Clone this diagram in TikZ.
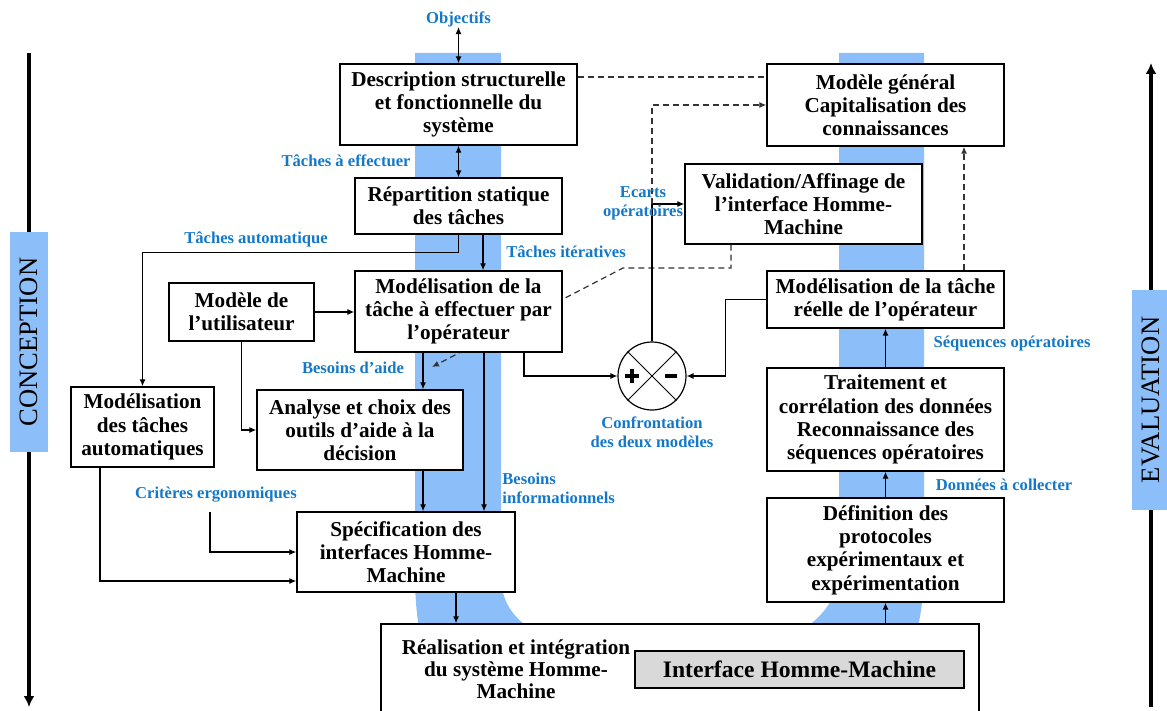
\documentclass[tikz,border=0pt]{standalone}
\usepackage{fontspec}
\setmainfont{Liberation Serif}
\usetikzlibrary{arrows.meta,calc}
\definecolor{lblue}{RGB}{20,120,200}
\definecolor{band}{RGB}{140,190,250}
\definecolor{ihmgray}{RGB}{217,217,217}
\pgfdeclarelayer{bg}\pgfdeclarelayer{mid}\pgfsetlayers{bg,mid,main}
\begin{document}
\begin{tikzpicture}[x=0.5pt,y=-0.5pt,
  box/.style={draw=black,line width=0.7pt,fill=white,align=center,inner sep=1pt,font=\fontsize{10.6}{11.6}\selectfont\bfseries},
  lbl/.style={text=lblue,font=\fontsize{8.3}{9.5}\selectfont\bfseries,inner sep=0pt,align=center},
  arr/.style={-{Latex[length=3.5pt,width=3pt]},line width=0.6pt},
  darr/.style={{Latex[length=3.5pt,width=3pt]}-{Latex[length=3.5pt,width=3pt]},line width=0.6pt},
  dsh/.style={dash pattern=on 3pt off 2pt,line width=0.6pt,draw=black!80},
  side/.style={line width=1.8pt},
  sidelbl/.style={fill=band,minimum width=110pt,minimum height=19pt,inner sep=0pt,font=\fontsize{13.3}{15}\selectfont,rotate=90}
]
\useasboundingbox (0,0) rectangle (1167,711);

\begin{pgfonlayer}{bg}
\fill[band] (415,53) -- (501,53) -- (501,575) .. controls (501,605) and (515,625) .. (560,645) -- (775,645) .. controls (820,625) and (839,600) .. (839,568) -- (839,53) -- (924,53) -- (924,568) .. controls (924,630) and (905,700) .. (850,740) -- (480,740) .. controls (430,700) and (415,640) .. (415,575) -- cycle;
\end{pgfonlayer}

% boxes
\node[lbl] (obj) at (458.5,19) {Objectifs};
\node[box,minimum width=118.5pt,minimum height=40.5pt] (desc) at (458.5,104.5) {Description structurelle\\et fonctionnelle du\\système};
\node[box,minimum width=103.5pt,minimum height=28pt] (rep) at (458.5,206) {Répartition statique\\des tâches};
\node[box,minimum width=103.5pt,minimum height=40.5pt] (modt) at (458.5,311.5) {Modélisation de la\\tâche à effectuer par\\l’opérateur};
\node[box,minimum width=72.5pt,minimum height=29pt] (user) at (241.5,312) {Modèle de\\l’utilisateur};
\node[box,minimum width=71.5pt,minimum height=40pt] (auto) at (142.5,427) {Modélisation\\des tâches\\automatiques};
\node[box,minimum width=103pt,minimum height=40pt] (anal) at (360,430) {Analyse et choix des\\outils d’aide à la\\décision};
\node[box,minimum width=109pt,minimum height=40pt] (spec) at (406,552) {Spécification des\\interfaces Homme-\\Machine};
\node[box,minimum width=299pt,minimum height=58pt] (real) at (680,682) {};
\node[align=center,inner sep=0pt,font=\fontsize{10.6}{11}\selectfont\bfseries] (realtxt) at (516,669) {Réalisation et intégration\\du système Homme-\\Machine};
\node[box,fill=ihmgray,minimum width=164.5pt,minimum height=18.5pt,font=\fontsize{11.8}{14}\selectfont\bfseries] (ihm) at (799.5,669.5) {Interface Homme-Machine};
\node[box,minimum width=118.5pt,minimum height=41pt] (gen) at (885.5,105) {Modèle général\\Capitalisation des\\connaissances};
\node[box,minimum width=118.5pt,minimum height=40pt] (valid) at (803.5,204) {Validation/Affinage de\\l’interface Homme-\\Machine};
\node[box,minimum width=118.5pt,minimum height=28.5pt] (reel) at (885.5,299.5) {Modélisation de la tâche\\réelle de l’opérateur};
\node[box,minimum width=118.5pt,minimum height=51.5pt] (trait) at (885.5,419.5) {Traitement et\\corrélation des données\\Reconnaissance des\\séquences opératoires};
\node[box,minimum width=118.5pt,minimum height=52pt] (defin) at (885.5,550) {Définition des\\protocoles\\expérimentaux et\\expérimentation};
\node[circle,draw,line width=0.6pt,fill=white,minimum size=34pt,inner sep=0pt] (cmp) at (652,376) {};

% blue labels
\node[lbl,anchor=east] (tae) at (411,161) {Tâches à effectuer};
\node[lbl] (tauto) at (256,239) {Tâches automatique};
\node[lbl] (titer) at (566,252) {Tâches itératives};
\node[lbl] (baide) at (353,368) {Besoins d’aide};
\node[lbl,anchor=west,align=left] (binfo) at (502,488) {Besoins\\informationnels};
\node[lbl] (crit) at (216,495) {Critères ergonomiques};
\node[lbl] (conf) at (652,432) {Confrontation\\des deux modèles};
\node[lbl] (seq) at (1012,343) {Séquences opératoires};
\node[lbl] (donn) at (1004,485) {Données à collecter};

% side labels
\node[sidelbl] (concept) at (29,342) {CONCEPTION};
\node[sidelbl] (eval) at (1151,400) {EVALUATION};
\coordinate (ctop) at (29,53);
\coordinate (cbot) at (29,707);
\coordinate (etop) at (1151,63);
\coordinate (ebot) at (1151,707);
\draw[side] (ctop) -- (concept.east);
\draw[side,-{Latex[length=5.5pt,width=5.5pt]}] (concept.west) -- (cbot);
\draw[side,-{Latex[length=5.5pt,width=5.5pt]}] (eval.east) -- (etop);
\draw[side] (eval.west) -- (ebot);

% connectors
\draw[darr] (obj) -- (desc);
\draw[darr] (desc) -- (rep);
\draw[arr] (rep.south) -- ++(0,18) -| (auto.north);
\draw[arr] ([xshift=12.25pt]rep.south) -- ([xshift=12.25pt]rep.south |- modt.north);
\draw[arr] (user.east) -- (user.east -| modt.west);
\draw[arr] (user.south) |- (anal.west);
\draw[arr] ([xshift=-17.75pt]modt.south) -- ([xshift=-17.75pt]modt.south |- anal.north);
\draw[arr] ([xshift=12.75pt]modt.south) -- ([xshift=12.75pt]modt.south |- spec.north);
\draw[arr] ([xshift=31.5pt]anal.south) -- ([xshift=31.5pt]anal.south |- spec.north);
\draw[arr] ([xshift=32.75pt]modt.south) |- (cmp.west);
\draw[arr] ([xshift=-21.25pt]auto.south) |- ([yshift=-14.5pt]spec.west);
\coordinate (critstart) at (210,512);
\draw[arr] (critstart) |- (spec.west);
\draw[arr] ([xshift=25pt]spec.south) -- ([xshift=25pt]spec.south |- real.north);
\draw[arr] (defin.south |- real.north) -- (defin.south);
\draw[arr] (defin) -- (trait);
\draw[arr] (trait) -- (reel);
\draw[arr] (reel.west) -- ++(-41,0) |- (cmp.east);
\draw[arr] (cmp.north) |- (valid.west);
\draw[dsh,arr] (cmp.north |- valid.west) |- (gen.west);
\draw[dsh] ([yshift=13.75pt]desc.east) -- ([yshift=13.75pt]desc.east -| gen.west);
\draw[dsh,arr] ([xshift=39.25pt]reel.north) -- ([xshift=39.25pt]reel.north |- gen.south);
\coordinate (dA) at (623,268);
\coordinate (dB) at (432,367);
\begin{pgfonlayer}{mid}
\draw[dsh,arr] ([xshift=-36.25pt]valid.south) |- (dA) -- (dB);
\end{pgfonlayer}

\node[lbl] (ecarts) at (643,203) {Ecarts\\opératoires};

% comparator symbols
\draw[line width=0.5pt] (cmp.north east) -- (cmp.south west) (cmp.north west) -- (cmp.south east);
\draw[line width=2.4pt] ($(cmp)+(-27,0)$) -- ($(cmp)+(-13,0)$) ($(cmp)+(-20,-7)$) -- ($(cmp)+(-20,7)$);
\draw[line width=2.4pt] ($(cmp)+(13,0)$) -- ($(cmp)+(25,0)$);
\end{tikzpicture}
\end{document}
